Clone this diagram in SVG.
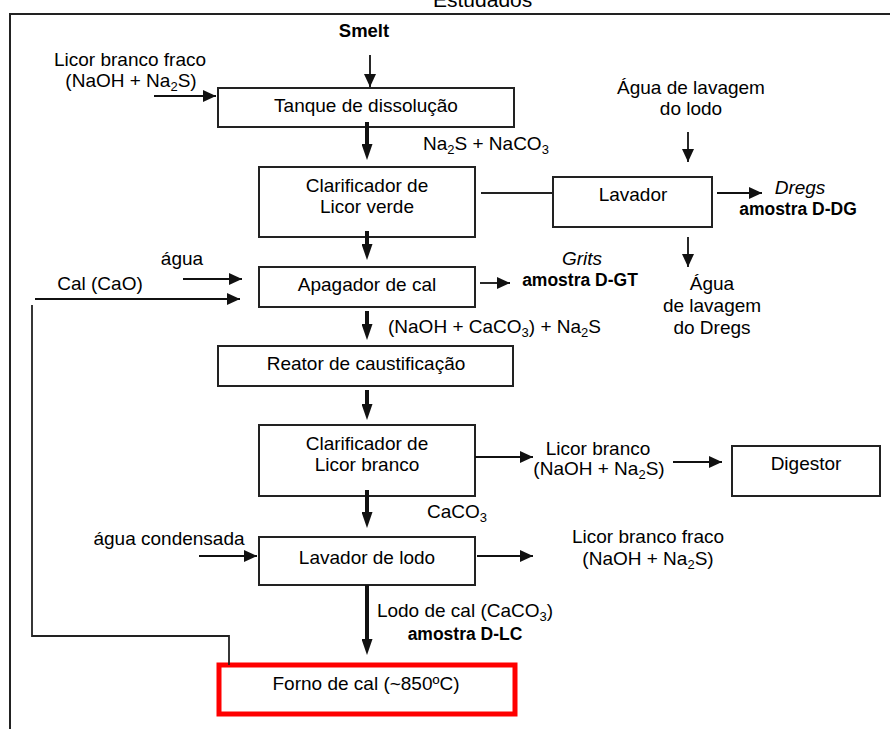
<svg xmlns="http://www.w3.org/2000/svg" width="890" height="729" viewBox="0 0 890 729">
  <defs>
    <style>
      text { font-family: "Liberation Sans", Arial, sans-serif; font-size: 19px; fill: #000; }
      .b { font-weight: bold; font-size: 17.5px; }
      .i { font-style: italic; }
      .m { text-anchor: middle; }
      .box { fill: #fff; stroke: #222; stroke-width: 2; }
      .red { fill: #fff; stroke: #f00; stroke-width: 5; }
      .thin { stroke: #111; stroke-width: 1.8; fill: none; marker-end: url(#ah); }
      .thick { stroke: #111; stroke-width: 4; fill: none; marker-end: url(#ahT); }
      .line { stroke: #222; stroke-width: 1.8; fill: none; }
    </style>
    <marker id="ah" markerUnits="userSpaceOnUse" markerWidth="14" markerHeight="12" refX="13" refY="6" orient="auto">
      <path d="M0,0 L13,6 L0,12 Z" fill="#111"/>
    </marker>
    <marker id="ahT" markerUnits="userSpaceOnUse" markerWidth="16" markerHeight="11" refX="9" refY="5.5" orient="auto">
      <path d="M0,0 L16,5.5 L0,11 Z" fill="#111"/>
    </marker>
  </defs>
  <rect width="890" height="729" fill="#fff"/>

  <!-- frame and title -->
  <g id="frame">
    <path d="M10,729 V14 H890" fill="none" stroke="#222" stroke-width="2"/>
    <text x="433" y="7" style="font-size:21px" fill="#222">Estudados</text>
  </g>

  <!-- nodes -->
  <g id="tanque">
    <rect class="box" x="218" y="88" width="296" height="39"/>
    <text class="m" x="366" y="112">Tanque de dissolução</text>
  </g>
  <g id="clarif-verde">
    <rect class="box" x="259" y="167" width="216" height="70"/>
    <text class="m" x="367" y="192">Clarificador de</text>
    <text class="m" x="367" y="213">Licor verde</text>
  </g>
  <g id="lavador">
    <rect class="box" x="553" y="177" width="159" height="50"/>
    <text class="m" x="633" y="201">Lavador</text>
  </g>
  <g id="apagador">
    <rect class="box" x="259" y="267" width="216" height="40"/>
    <text class="m" x="367" y="291">Apagador de cal</text>
  </g>
  <g id="reator">
    <rect class="box" x="218" y="346" width="295" height="40"/>
    <text class="m" x="366" y="370">Reator de caustificação</text>
  </g>
  <g id="clarif-branco">
    <rect class="box" x="259" y="425" width="216" height="71"/>
    <text class="m" x="367" y="450">Clarificador de</text>
    <text class="m" x="367" y="471">Licor branco</text>
  </g>
  <g id="digestor">
    <rect class="box" x="732" y="446" width="148" height="50"/>
    <text class="m" x="806" y="470">Digestor</text>
  </g>
  <g id="lavador-lodo">
    <rect class="box" x="259" y="537" width="216" height="48"/>
    <text class="m" x="367" y="564">Lavador de lodo</text>
  </g>
  <g id="forno">
    <rect class="red" x="219" y="665" width="296" height="49"/>
    <text class="m" x="366" y="690">Forno de cal (~850ºC)</text>
  </g>

  <!-- stream labels -->
  <g id="labels">
    <text class="b m" x="364" y="37" style="font-size:18.5px">Smelt</text>
    <text class="m" x="130" y="66">Licor branco fraco</text>
    <text class="m" x="131" y="87">(NaOH + Na<tspan font-size="13" dy="4">2</tspan><tspan dy="-4">S)</tspan></text>
    <text x="423" y="150">Na<tspan font-size="13" dy="4">2</tspan><tspan dy="-4">S + NaCO</tspan><tspan font-size="13" dy="4">3</tspan></text>
    <text class="m" x="691" y="94">Água de lavagem</text>
    <text class="m" x="691" y="115">do lodo</text>
    <text class="i m" x="800" y="194">Dregs</text>
    <text class="b m" x="798" y="215">amostra D-DG</text>
    <text class="m" x="712" y="290">Água</text>
    <text class="m" x="712" y="312">de lavagem</text>
    <text class="m" x="712" y="334">do Dregs</text>
    <text class="m" x="182" y="265">água</text>
    <text class="m" x="100" y="290">Cal (CaO)</text>
    <text class="i m" x="582" y="265">Grits</text>
    <text class="b m" x="580" y="286">amostra D-GT</text>
    <text x="388" y="333">(NaOH + CaCO<tspan font-size="13" dy="4">3</tspan><tspan dy="-4">) + Na</tspan><tspan font-size="13" dy="4">2</tspan><tspan dy="-4">S</tspan></text>
    <text class="m" x="598" y="455">Licor branco</text>
    <text class="m" x="599" y="475">(NaOH + Na<tspan font-size="13" dy="4">2</tspan><tspan dy="-4">S)</tspan></text>
    <text x="427" y="518">CaCO<tspan font-size="13" dy="4">3</tspan></text>
    <text class="m" x="169" y="545">água condensada</text>
    <text class="m" x="648" y="543">Licor branco fraco</text>
    <text class="m" x="648" y="565">(NaOH + Na<tspan font-size="13" dy="4">2</tspan><tspan dy="-4">S)</tspan></text>
    <text class="m" x="465" y="617">Lodo de cal (CaCO<tspan font-size="13" dy="4">3</tspan><tspan dy="-4">)</tspan></text>
    <text class="b m" x="465" y="640">amostra D-LC</text>
  </g>

  <!-- connectors -->
  <g id="connectors">
    <line class="thin" x1="370" y1="55" x2="370" y2="87"/>
    <line class="thin" x1="154" y1="96" x2="216" y2="96"/>
    <line class="thin" x1="688" y1="132" x2="688" y2="162"/>
    <line class="thin" x1="717" y1="193" x2="762" y2="193"/>
    <line class="thin" x1="688" y1="237" x2="688" y2="267"/>
    <line class="thin" x1="183" y1="279" x2="242" y2="279"/>
    <line class="thin" x1="35" y1="299" x2="240" y2="299"/>
    <line class="thin" x1="480" y1="283" x2="510" y2="283"/>
    <line class="thin" x1="475" y1="457" x2="533" y2="457"/>
    <line class="thin" x1="673" y1="462" x2="722" y2="462"/>
    <line class="thin" x1="199" y1="556" x2="257" y2="556"/>
    <line class="thin" x1="477" y1="556" x2="533" y2="556"/>
    <line class="line" x1="481" y1="193" x2="553" y2="193"/>
    <path class="line" d="M32,305 V636 H229 V665"/>
    <line class="thick" x1="367" y1="122" x2="367" y2="153"/>
    <line class="thick" x1="367" y1="231" x2="367" y2="253"/>
    <line class="thick" x1="367" y1="311" x2="367" y2="333"/>
    <line class="thick" x1="367" y1="390" x2="367" y2="413"/>
    <line class="thick" x1="367" y1="490" x2="367" y2="521"/>
    <line class="thick" x1="367" y1="585" x2="367" y2="648"/>
  </g>
</svg>
